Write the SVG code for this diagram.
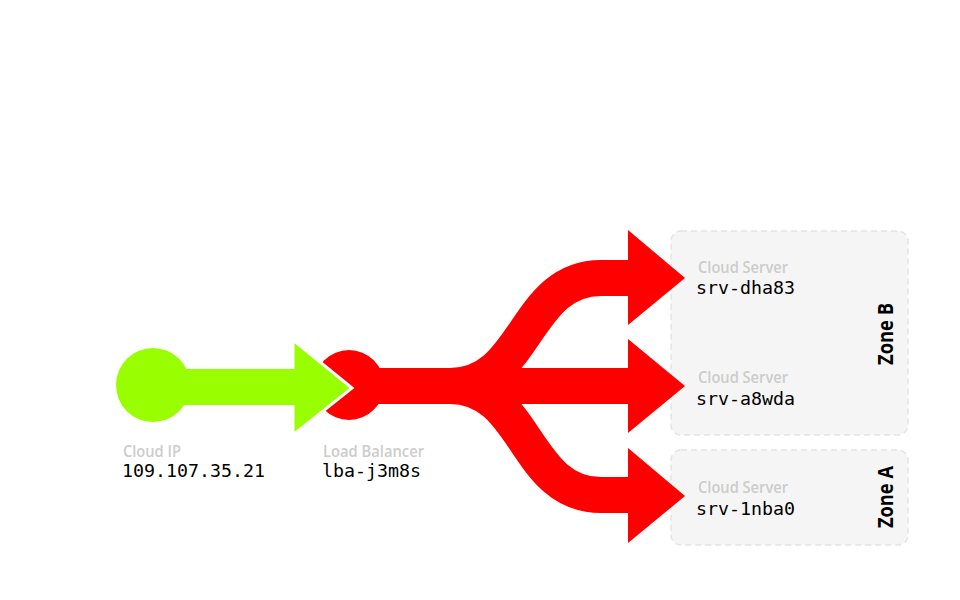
<svg xmlns="http://www.w3.org/2000/svg" width="960" height="600" viewBox="0 0 960 600">
<style>
.kind{font-family:"Open Sans","Noto Sans",sans-serif;font-weight:600;font-size:17px;fill:#cccccc}
.name{font-family:"DejaVu Sans Mono","Liberation Mono",monospace;font-size:18.3px;fill:#000}
.zone{fill:#f5f5f5;stroke:#e3e3e3;stroke-width:1.5;stroke-dasharray:6 4}
.zlabel{font-family:"Open Sans","Noto Sans",sans-serif;font-weight:700;font-size:21px;fill:#000}
.flow{fill:none;stroke:#ff0000;stroke-width:36}
.head{fill:#ff0000}
</style>
<rect width="960" height="600" fill="#fff"/>
<g id="zone-b">
<rect class="zone" x="671" y="231" width="237" height="204" rx="10"/>
<text class="zlabel" transform="translate(893,334) rotate(-90)" text-anchor="middle" textLength="62" lengthAdjust="spacingAndGlyphs">Zone B</text>
</g>
<g id="zone-a">
<rect class="zone" x="671" y="450" width="237" height="95" rx="10"/>
<text class="zlabel" transform="translate(893,497) rotate(-90)" text-anchor="middle" textLength="62" lengthAdjust="spacingAndGlyphs">Zone A</text>
</g>
<g id="connectors">
<path class="flow" d="M350 386 H450 C528 386 523 278 601 278 H630"/>
<path class="flow" d="M350 386 H630"/>
<path class="flow" d="M350 386 H450 C528 386 523 495 601 495 H630"/>
<polygon class="head" points="628,230 685,278 628,325"/>
<polygon class="head" points="628,339 685,386 628,433"/>
<polygon class="head" points="628,448 685,496 628,543"/>
</g>
<g id="load-balancer">
<circle cx="349" cy="385" r="35" fill="#ff0000"/>
<text class="kind" x="323" y="457" textLength="101" lengthAdjust="spacingAndGlyphs">Load Balancer</text>
<text class="name" x="322" y="477">lba-j3m8s</text>
</g>
<g id="cloud-ip">
<circle cx="153" cy="385" r="37" fill="#99ff00"/>
<polygon points="293,340 352,388 293,435" fill="#99ff00" stroke="#fff" stroke-width="3"/>
<rect x="153" y="369" width="142" height="36" fill="#99ff00"/>
<text class="kind" x="123" y="457" textLength="58" lengthAdjust="spacingAndGlyphs">Cloud IP</text>
<text class="name" x="122" y="477">109.107.35.21</text>
</g>
<g id="srv-dha83">
<text class="kind" x="698" y="273" textLength="90" lengthAdjust="spacingAndGlyphs">Cloud Server</text>
<text class="name" x="696" y="294">srv-dha83</text>
</g>
<g id="srv-a8wda">
<text class="kind" x="698" y="383" textLength="90" lengthAdjust="spacingAndGlyphs">Cloud Server</text>
<text class="name" x="696" y="405">srv-a8wda</text>
</g>
<g id="srv-1nba0">
<text class="kind" x="698" y="493" textLength="90" lengthAdjust="spacingAndGlyphs">Cloud Server</text>
<text class="name" x="696" y="515">srv-1nba0</text>
</g>
</svg>
